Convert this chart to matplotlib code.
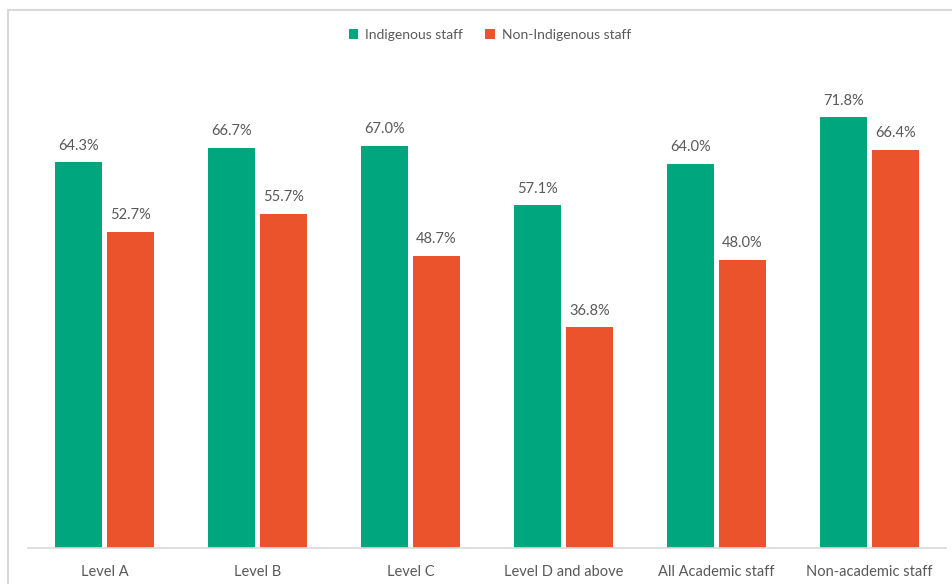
import matplotlib.pyplot as plt
import numpy as np

categories = ["Level A", "Level B", "Level C", "Level D and above",
              "All Academic staff", "Non-academic staff"]
indigenous = [64.3, 66.7, 67.0, 57.1, 64.0, 71.8]
non_indigenous = [52.7, 55.7, 48.7, 36.8, 48.0, 66.4]

green = "#00A67E"
orange = "#EA532B"
text_color = "#595959"

plt.rcParams["font.family"] = ["Lato", "DejaVu Sans"]

fig = plt.figure(figsize=(9.52, 5.84), dpi=100)
W, H = 952, 584
# Marco del grafico
fig.add_artist(plt.Line2D([8 / W, 8 / W], [0, 1 - 10 / H], color="#d9d9d9", lw=1.5))
fig.add_artist(plt.Line2D([8 / W, 1], [1 - 10 / H, 1 - 10 / H], color="#d9d9d9", lw=1.5))

ax = fig.add_axes([28 / W, 1 - 548 / H, 918 / W, 498 / H])
x = np.arange(len(categories))
bw = 0.305
off = 0.17
b1 = ax.bar(x - off, indigenous, bw, color=green, label="Indigenous staff")
b2 = ax.bar(x + off, non_indigenous, bw, color=orange, label="Non-Indigenous staff")

# Etiquetas de los valores
for bars, vals in ((b1, indigenous), (b2, non_indigenous)):
    for b, v in zip(bars, vals):
        ax.text(b.get_x() + b.get_width() / 2, v + 1.6, f"{v:.1f}%",
                ha="center", va="bottom", fontsize=10.5, color=text_color)

ax.set_xlim(-0.5, 5.5)
ax.set_ylim(0, 83)
ax.set_xticks(x)
ax.set_xticklabels(categories, fontsize=10.5, color=text_color)
ax.tick_params(axis="x", length=0, pad=12)
ax.set_yticks([])
for s in ["top", "right", "left"]:
    ax.spines[s].set_visible(False)
ax.spines["bottom"].set_color("#d9d9d9")
ax.spines["bottom"].set_linewidth(1.2)

fig.legend(loc="center", bbox_to_anchor=(490 / W, 1 - 35 / H), ncol=2,
           frameon=False, fontsize=10, handlelength=0.7, handleheight=0.7,
           columnspacing=1.6, handletextpad=0.5, labelcolor=text_color)

fig.savefig("out.png", dpi=100)
